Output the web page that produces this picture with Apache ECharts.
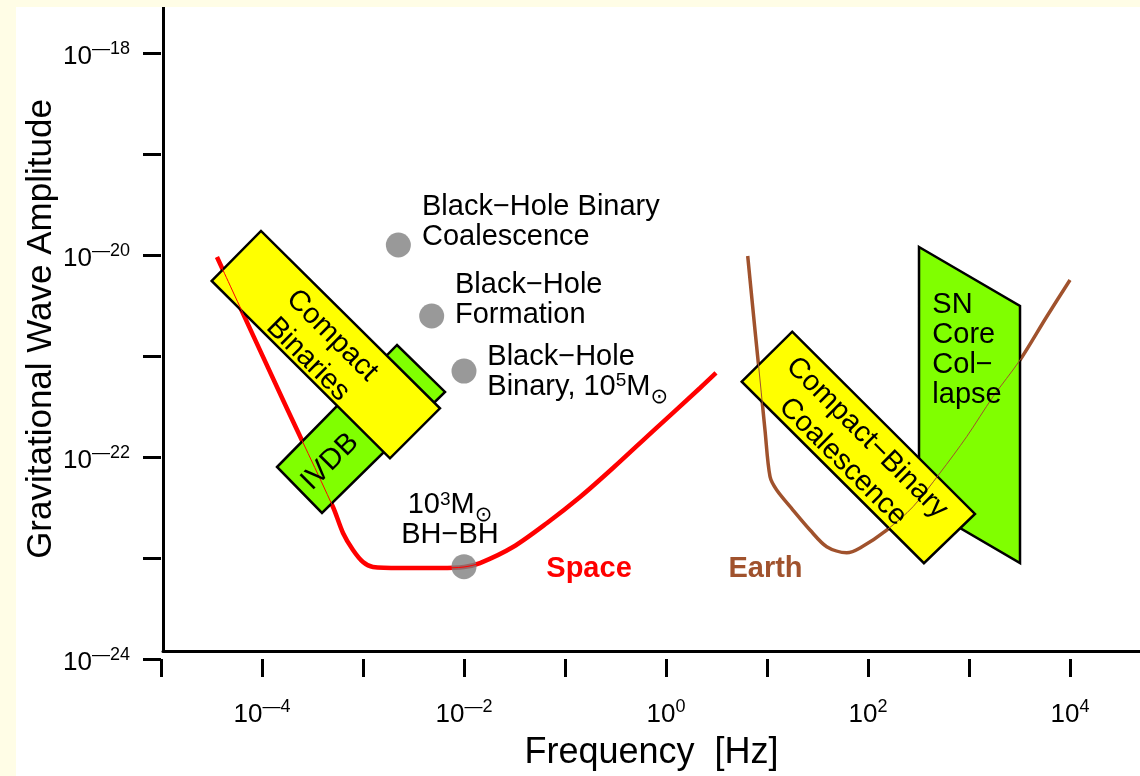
<!DOCTYPE html>
<html>
<head>
<meta charset="utf-8">
<title>Gravitational wave sources</title>
<script src="https://cdn.jsdelivr.net/npm/echarts@6/dist/echarts.min.js"></script>
<style>
  html, body { margin: 0; padding: 0; background: #fffde6; }
  #main { position: absolute; left: 16px; top: 7px; width: 1124px; height: 769px; background: #ffffff; }
</style>
</head>
<body>
<div id="main"></div>
<script>
// everything is in log10: x = log10(f / Hz), y = log10(h)
var spaceX = [-4.446, -3.792, -3.297, -3.198, -3.099, -3.000, -2.901, -2.634, -2.238, -2.000, -1.842, -1.515, -1.178, -0.851, -0.525, -0.129, 0.337, 0.495];
var spaceY = [-20.020, -21.436, -22.495, -22.752, -22.921, -23.040, -23.089, -23.099, -23.099, -23.089, -23.050, -22.891, -22.653, -22.396, -22.109, -21.743, -21.317, -21.168];

var earthX = [0.809, 0.881, 0.931, 0.980, 1.030, 1.096, 1.257, 1.426, 1.591, 1.789, 1.921, 2.185, 2.446, 2.713, 2.977, 3.238, 3.505, 3.769, 4.000];
var earthY = [-20.010, -20.743, -21.238, -21.733, -22.195, -22.327, -22.525, -22.723, -22.888, -22.948, -22.901, -22.723, -22.492, -22.158, -21.799, -21.403, -21.040, -20.611, -20.248];

// black-hole sources (grey dots)
var sourceX = [-2.650, -2.320, -2.000, -2.000];
var sourceY = [-19.901, -20.604, -21.149, -23.086];

// source regions, corners
var ivdbBox = [[-3.851, -22.099], [-2.663, -20.891], [-2.188, -21.356], [-3.406, -22.554]];
var binariesBox = [[-4.498, -20.257], [-4.010, -19.762], [-2.238, -21.518], [-2.733, -22.013]];
var snBox = [[2.505, -19.921], [3.505, -20.505], [3.505, -23.050], [2.505, -22.465]];
var cbcBox = [[0.750, -21.254], [1.250, -20.759], [3.059, -22.564], [2.554, -23.052]];

var xTicks = [-5, -4, -3, -2, -1, 0, 1, 2, 3, 4];
var yTicks = [-24, -23, -22, -21, -20, -19, -18];

var FONT = "'Liberation Sans', Arial, Helvetica, sans-serif";
var YELLOW = '#ffff00';
var GREEN = '#80ff00';
var RED = '#ff0000';
var BROWN = '#a0522d';

var regions = [
  { pts: ivdbBox, fill: GREEN },
  { pts: binariesBox, fill: YELLOW },
  { pts: snBox, fill: GREEN },
  { pts: cbcBox, fill: YELLOW }
];

var notes = [
  { text: 'Black−Hole Binary\nCoalescence', at: [-2.416, -19.673], align: 'left' },
  { text: 'Black−Hole\nFormation', at: [-2.089, -20.446], align: 'left' },
  { text: 'Black−Hole\nBinary, 10{sup|5}M{sun|⊙}', at: [-1.769, -21.155], align: 'left' },
  { text: '10{sup|3}M{sun|⊙}\nBH−BH', at: [-2.139, -22.624], align: 'center' },
  { text: 'Space', at: [-0.762, -23.109], align: 'center', color: RED, bold: true },
  { text: 'Earth', at: [0.985, -23.109], align: 'center', color: BROWN, bold: true },
  { text: 'Compact\nBinaries', at: [-3.426, -20.916], align: 'center', rot: -Math.PI / 4, lh: 34 },
  { text: 'IVDB', at: [-3.327, -22.047], align: 'center', rot: Math.PI / 4 },
  { text: 'Compact−Binary\nCoalescence', at: [1.869, -21.929], align: 'center', rot: -Math.PI / 4, lh: 34 },
  { text: 'SN\nCore\nCol−\nlapse', at: [2.637, -20.941], align: 'left' }
];

function pairs(xs, ys) {
  return xs.map(function (x, i) { return [x, ys[i]]; });
}

function powLabel(v) {
  v = Math.round(v * 1000) / 1000;
  if (v !== Math.round(v) || v % 2 !== 0) return '';
  return '{b|10}{s|' + (v < 0 ? '—' + (-v) : v) + '}';
}

var labelRich = {
  b: { fontSize: 26, lineHeight: 34, fontFamily: FONT, color: '#000' },
  s: { fontSize: 18, lineHeight: 18, verticalAlign: 'top', fontFamily: FONT, color: '#000' }
};

var noteRich = {
  sup: { fontSize: 19, lineHeight: 19, verticalAlign: 'top', fontFamily: FONT },
  sun: { fontSize: 21, lineHeight: 9, padding: [15, 0, 0, 0], verticalAlign: 'top', fontFamily: "'DejaVu Sans', sans-serif" }
};

var chart = echarts.init(document.getElementById('main'));

var option = {
  animation: false,
  textStyle: { fontFamily: FONT },
  grid: [
    { left: 145, right: 0, top: 0, bottom: 117 },
    { left: 145, right: 70, top: 46, bottom: 117 }
  ],
  xAxis: [
    {
      gridIndex: 0, type: 'value', min: -5, max: 4.693,
      axisLine: { onZero: false, lineStyle: { color: '#000', width: 3 } },
      axisTick: { show: false }, axisLabel: { show: false }, splitLine: { show: false },
      name: 'Frequency  [Hz]', nameLocation: 'middle', nameGap: 84,
      nameTextStyle: { fontSize: 36, color: '#000', fontFamily: FONT }
    },
    {
      gridIndex: 1, type: 'value', min: xTicks[0], max: xTicks[xTicks.length - 1], interval: 1,
      axisLine: { show: false, onZero: false },
      axisTick: { length: 18, lineStyle: { color: '#000', width: 3 } },
      axisLabel: { margin: 39, formatter: powLabel, rich: labelRich },
      splitLine: { show: false }
    }
  ],
  yAxis: [
    {
      gridIndex: 0, type: 'value', min: -24, max: -17.545,
      axisLine: { onZero: false, lineStyle: { color: '#000', width: 3 } },
      axisTick: { show: false }, axisLabel: { show: false }, splitLine: { show: false },
      name: 'Gravitational Wave Amplitude', nameLocation: 'middle', nameGap: 104,
      nameTextStyle: { fontSize: 35, color: '#000', fontFamily: FONT }
    },
    {
      gridIndex: 1, type: 'value', min: yTicks[0], max: yTicks[yTicks.length - 1], interval: 1,
      axisLine: { show: false, onZero: false },
      axisTick: { length: 18, lineStyle: { color: '#000', width: 3 } },
      axisLabel: { margin: 31, padding: [8, 0, 0, 0], formatter: powLabel, rich: labelRich },
      splitLine: { show: false }
    }
  ],
  series: [
    {
      name: 'Space', type: 'line', xAxisIndex: 1, yAxisIndex: 1, z: 2,
      data: pairs(spaceX, spaceY), showSymbol: false, smooth: 0.3, silent: true,
      lineStyle: { color: RED, width: 4.5 }
    },
    {
      name: 'Earth', type: 'line', xAxisIndex: 1, yAxisIndex: 1, z: 2,
      data: pairs(earthX, earthY), showSymbol: false, smooth: 0.3, silent: true,
      lineStyle: { color: BROWN, width: 3.5 }
    },
    {
      name: 'Sources', type: 'scatter', xAxisIndex: 1, yAxisIndex: 1, z: 3,
      data: pairs(sourceX, sourceY), symbolSize: 25, silent: true,
      itemStyle: { color: '#808080' }
    },
    {
      name: 'Regions', type: 'custom', xAxisIndex: 1, yAxisIndex: 1, z: 3, silent: true,
      data: regions.map(function (r, i) { return [r.pts[0][0], r.pts[0][1], i]; }),
      renderItem: function (params, api) {
        var r = regions[api.value(2)];
        return {
          type: 'polygon',
          shape: { points: r.pts.map(function (p) { return api.coord(p); }) },
          style: { fill: r.fill, stroke: '#000', lineWidth: 2.5 }
        };
      }
    },
    {
      name: 'Space thin', type: 'line', xAxisIndex: 1, yAxisIndex: 1, z: 4,
      data: pairs(spaceX, spaceY), showSymbol: false, smooth: 0.3, silent: true,
      lineStyle: { color: RED, width: 1 }
    },
    {
      name: 'Earth thin', type: 'line', xAxisIndex: 1, yAxisIndex: 1, z: 4,
      data: pairs(earthX, earthY), showSymbol: false, smooth: 0.3, silent: true,
      lineStyle: { color: BROWN, width: 1 }
    },
    {
      name: 'Notes', type: 'custom', xAxisIndex: 1, yAxisIndex: 1, z: 5, silent: true,
      data: notes.map(function (n, i) { return [n.at[0], n.at[1], i]; }),
      renderItem: function (params, api) {
        var n = notes[api.value(2)];
        var p = api.coord(n.at);
        return {
          type: 'text', x: p[0], y: p[1], rotation: n.rot || 0,
          style: {
            text: n.text, align: n.align, verticalAlign: 'middle',
            fill: n.color || '#000', fontSize: 29, fontFamily: FONT,
            fontWeight: n.bold ? 'bold' : 'normal',
            lineHeight: n.lh || 30, rich: noteRich
          }
        };
      }
    }
  ]
};

chart.setOption(option);
</script>
</body>
</html>
